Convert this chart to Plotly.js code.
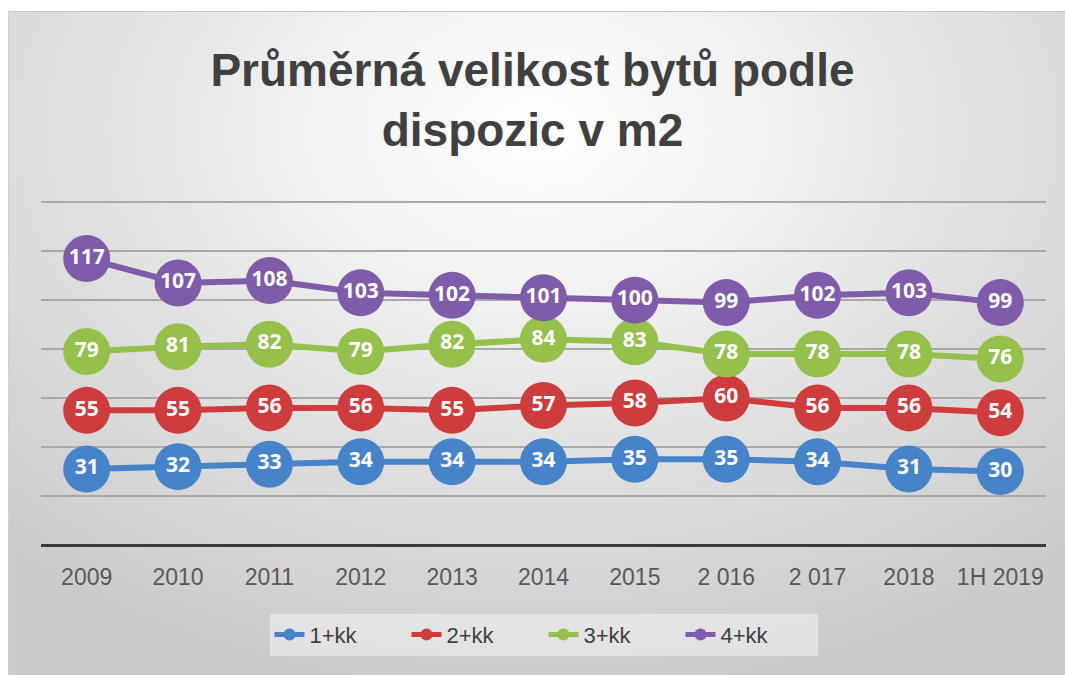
<!DOCTYPE html>
<html>
<head>
<meta charset="utf-8">
<script src="https://cdn.plot.ly/plotly-3.0.1.min.js"></script>
<style>
  html, body { margin: 0; padding: 0; background: #ffffff; }
  #wrap { position: relative; width: 1065px; height: 675px; overflow: hidden; background: #ffffff; }
  #frame { position: absolute; left: 8px; top: 11px; width: 1057px; height: 664px;
    background: radial-gradient(ellipse 75% 85% at 50% 18%, #ffffff 0%, #f4f4f4 25%, #e2e2e2 55%, #cbcbcb 100%);
    border-top: 1px solid #c4c4c4; border-left: 1px solid #d0d0d0; box-sizing: border-box; }
  #chart { position: absolute; left: 0; top: 0; width: 1065px; height: 675px; }
</style>
</head>
<body>
<div id="wrap">
  <div id="frame"></div>
  <div id="chart"></div>
</div>
<script>
const categories = ["2009", "2010", "2011", "2012", "2013", "2014", "2015", "2 016", "2 017", "2018", "1H 2019"];
const seriesNames = ["1+kk", "2+kk", "3+kk", "4+kk"];
const kk1 = [31, 32, 33, 34, 34, 34, 35, 35, 34, 31, 30];
const kk2 = [55, 55, 56, 56, 55, 57, 58, 60, 56, 56, 54];
const kk3 = [79, 81, 82, 79, 82, 84, 83, 78, 78, 78, 76];
const kk4 = [117, 107, 108, 103, 102, 101, 100, 99, 102, 103, 99];
const seriesValues = [kk1, kk2, kk3, kk4];
const colors = ["#4783c8", "#cf3c3d", "#95c04c", "#7f5ca9"];

const traces = seriesValues.map((vals, i) => ({
  type: "scatter",
  mode: "lines+markers+text",
  name: seriesNames[i],
  x: categories,
  y: vals,
  text: vals.map(String),
  textposition: "middle center",
  textfont: { family: "Open Sans, Noto Sans, sans-serif", size: 21, color: "#ffffff", weight: 700 },
  line: { color: colors[i], width: 6 },
  marker: { color: colors[i], size: 47, line: { width: 0 } },
  cliponaxis: false,
  hoverinfo: "x+y+name"
}));

const layout = {
  width: 1065,
  height: 675,
  paper_bgcolor: "rgba(0,0,0,0)",
  plot_bgcolor: "rgba(0,0,0,0)",
  margin: { l: 41, r: 19, t: 201, b: 130 },
  title: {
    text: "Průměrná velikost bytů podle<br>dispozic v m2",
    x: 0.5, xanchor: "center",
    y: 0.872, yanchor: "top",
    font: { family: "Liberation Sans, Arial, sans-serif", size: 46, color: "#404040", weight: 700 }
  },
  xaxis: {
    type: "category",
    range: [-0.5, 10.5],
    showgrid: false,
    zeroline: false,
    showline: false,
    ticks: "",
    tickfont: { family: "Liberation Sans, Arial, sans-serif", size: 23, color: "#595959" },
    ticklabelstandoff: 16,
    fixedrange: true
  },
  yaxis: {
    range: [0, 140.5],
    dtick: 20,
    tick0: 0,
    showgrid: true,
    gridcolor: "#a9a9a9",
    gridwidth: 1.5,
    zeroline: true,
    zerolinecolor: "#3a3a3a",
    zerolinewidth: 3,
    showticklabels: false,
    ticks: "",
    showline: false,
    fixedrange: true
  },
  showlegend: true,
  legend: {
    orientation: "h",
    x: 0.5, xanchor: "center",
    y: -0.2, yanchor: "top",
    bgcolor: "rgba(240,240,240,0.6)",
    borderwidth: 0,
    itemsizing: "constant",
    font: { family: "Liberation Sans, Arial, sans-serif", size: 22, color: "#404040" },
    entrywidth: 92,
    entrywidthmode: "pixels",
    tracegroupgap: 0
  },
  hovermode: "closest"
};

Plotly.newPlot("chart", traces, layout, { displayModeBar: false });
</script>
</body>
</html>
